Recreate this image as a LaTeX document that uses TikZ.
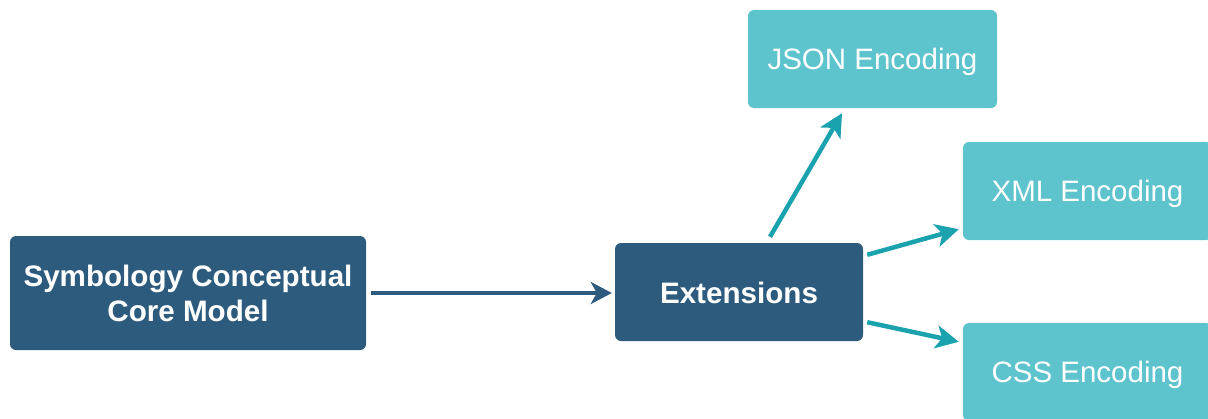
\documentclass[tikz,border=0pt]{standalone}
\usepackage{fontspec}
\setmainfont{Liberation Sans}
\usetikzlibrary{arrows.meta}
\definecolor{darkbox}{HTML}{2D5B7D}
\definecolor{lightbox}{HTML}{5DC3CD}
\definecolor{tealarrow}{HTML}{1AA2AE}
\newcommand{\lowtext}[1]{\raisebox{-3pt}[\height][\depth]{#1}}
\tikzset{
  darknode/.style={fill=darkbox, rounded corners=6pt, text=white, align=center,
    font=\fontsize{29.6}{35}\selectfont\bfseries, inner sep=0pt},
  lightnode/.style={fill=lightbox, rounded corners=6pt, text=white, align=center,
    font=\fontsize{29.5}{35}\selectfont, inner sep=0pt,
    minimum width=249pt, minimum height=98pt},
  darkarrow/.style={draw=darkbox, line width=3.8pt, -{Stealth[length=21pt,width=22pt,inset=6pt]}},
  tealarr/.style={draw=tealarrow, line width=4.5pt, -{Stealth[length=23pt,width=23pt,inset=6pt]}}
}
\begin{document}
\begin{tikzpicture}[x=1pt,y=-1pt]
\useasboundingbox (0,0) rectangle (1208,418);
\clip (0,0) rectangle (1208,418);
\node[darknode, minimum width=356pt, minimum height=114pt] (core) at (188,293) {Symbology Conceptual\\Core Model};
\node[darknode, minimum width=248pt, minimum height=98pt] (ext) at (739,292) {\raisebox{-1pt}[\height][\depth]{Extensions}};
\node[lightnode] (json) at (872.5,59) {\lowtext{JSON Encoding}};
\node[lightnode] (xml) at (1087.5,191) {\lowtext{XML Encoding}};
\node[lightnode] (css) at (1087.5,372) {\lowtext{CSS Encoding}};
\draw[darkarrow, shorten <=5pt, shorten >=3pt] (core.east) -- (core.east -| ext.west);
\draw[tealarr] ([xshift=31pt,yshift=6pt]ext.north) -- ([xshift=-30.5pt,yshift=-5pt]json.south);
\draw[tealarr] ([xshift=4pt,yshift=-12pt]ext.north east) -- ([xshift=-4pt,yshift=11pt]xml.south west);
\draw[tealarr] ([xshift=4pt,yshift=19pt]ext.south east) -- ([xshift=-4pt,yshift=-19pt]css.north west);
\end{tikzpicture}
\end{document}
